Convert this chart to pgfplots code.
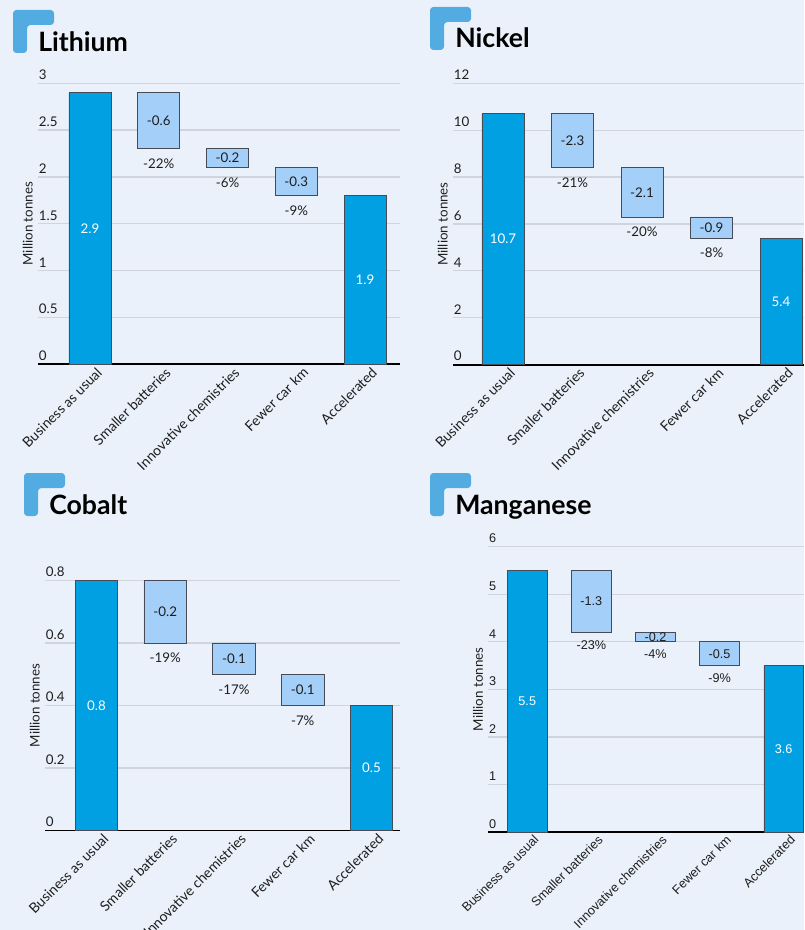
\documentclass[border=0pt]{standalone}
\usepackage{fontspec}
\setmainfont{Lato}
\newfontfamily\mnfont{Liberation Sans}
\usepackage{pgfplots}
\pgfplotsset{compat=1.18}
\usepackage{pgfplotstable}

\definecolor{bg}{RGB}{235,241,250}
\definecolor{total}{RGB}{0,160,227}
\definecolor{step}{RGB}{164,207,249}
\definecolor{edge}{RGB}{70,75,85}
\definecolor{gridc}{RGB}{208,212,220}
\definecolor{badge}{RGB}{82,172,226}
\definecolor{ink}{RGB}{30,30,30}

% x base total step val pct
\pgfplotstableread{
x base total step val pct
0 0   2.9 0   2.9  -
1 2.3 0   0.6 -0.6 -22\%
2 2.1 0   0.2 -0.2 -6\%
3 1.8 0   0.3 -0.3 -9\%
4 0   1.8 0   1.9  -
}\lithium
\pgfplotstableread{
x base total step val pct
0 0   10.7 0   10.7 -
1 8.4 0    2.3 -2.3 -21\%
2 6.3 0    2.1 -2.1 -20\%
3 5.4 0    0.9 -0.9 -8\%
4 0   5.4  0   5.4  -
}\nickel
\pgfplotstableread{
x base total step val pct
0 0   0.8 0   0.8  -
1 0.6 0   0.2 -0.2 -19\%
2 0.5 0   0.1 -0.1 -17\%
3 0.4 0   0.1 -0.1 -7\%
4 0   0.4 0   0.5  -
}\cobalt
\pgfplotstableread{
x base total step val pct
0 0   5.5 0   5.5  -
1 4.2 0   1.3 -1.3 -23\%
2 4.0 0   0.2 -0.2 -4\%
3 3.5 0   0.5 -0.5 -9\%
4 0   3.5 0   3.6  -
}\manganese

\newcommand\sz{\fontsize{10}{11}\selectfont}
\newcommand\xsz{\fontsize{10.5}{12}\selectfont}
\newcommand\msz{\fontsize{9.5}{11}\selectfont}

\pgfplotsset{
  geom/.style={scale only axis, anchor=south west, ymin=0},
  panel/.style={
    geom, ybar stacked,
    axis line style={draw=none},
    major tick length=0pt,
    ymajorgrids, grid style={gridc, line width=0.9pt},
    extra y ticks={0}, extra y tick labels={},
    extra y tick style={grid style={black, line width=1.4pt}},
    xtick={0,...,4},
    xticklabels={Business as usual, Smaller batteries, Innovative chemistries, Fewer car km, Accelerated},
    tick label style={font=\sz, text=ink},
    xticklabel style={font=\xsz, rotate=45, anchor=north east, inner sep=1pt, xshift=3pt, yshift=-3pt},
    yticklabel style={anchor=south west, inner xsep=0.5pt, inner ysep=2.5pt},
    /pgf/number format/assume math mode=true,
    ylabel={Million tonnes},
    every axis y label/.style={at={(rel axis cs:0,0.5)}, rotate=90, anchor=south,
      inner sep=0pt, outer sep=4pt, font=\sz, text=ink},
  },
  li/.style={at={(28.5pt,-273.2pt)}, width=271.5pt, height=210.75pt,
    xmin=-0.756, xmax=4.509, ymax=3, bar width=0.611, ytick={0,0.5,...,3}},
  ni/.style={at={(339.75pt,-273.5pt)}, width=263.25pt, height=211.05pt,
    xmin=-0.719, xmax=4.331, ymax=12, bar width=0.604, ytick={0,2,...,12}},
  co/.style={at={(33.75pt,-622.9pt)}, width=266.25pt, height=187.5pt,
    xmin=-0.749, xmax=4.415, ymax=0.8, bar width=0.62, ytick={0,0.2,0.4,0.6,0.8}},
  mn/.style={at={(366.2pt,-624pt)}, width=236.8pt, height=214pt,
    xmin=-0.608, xmax=4.317, ymax=6, bar width=0.616, ytick={0,1,...,6},
    tick label style={font=\mnfont\msz},
    xticklabel style={font=\mnfont\msz}},
}

% #1 geometry style, #2 table, #3 label font, #4 shift of the percentages
\newcommand\waterfall[4]{%
  \begin{axis}[panel, #1]
    \addplot[draw=none, fill=none] table[x=x, y=base] {#2};
    \addplot[fill=total, draw=edge, line width=0.6pt] table[x=x, y=total] {#2};
    \addplot[fill=step, draw=edge, line width=0.6pt] table[x=x, y=step] {#2};
  \end{axis}
  \begin{axis}[geom, #1, hide axis, nodes near coords, point meta=explicit symbolic]
    \addplot[draw=none, skip coords between index={1}{4},
      every node near coord/.style={anchor=center, text=white, font=#3}]
      table[x=x, y expr={\thisrow{base}+0.5*(\thisrow{total}+\thisrow{step})}, meta=val] {#2};
    \addplot[draw=none, skip coords between index={0}{1}, skip coords between index={4}{5},
      every node near coord/.style={anchor=center, text=ink, font=#3}]
      table[x=x, y expr={\thisrow{base}+0.5*(\thisrow{total}+\thisrow{step})}, meta=val] {#2};
    \addplot[draw=none, skip coords between index={0}{1}, skip coords between index={4}{5},
      every node near coord/.style={anchor=center, text=ink, font=#3, yshift=#4}]
      table[x=x, y=base, meta=pct] {#2};
  \end{axis}}

\begin{document}
\begin{tikzpicture}
\fill[bg] (0,0) rectangle (603pt,-697.5pt);
\useasboundingbox (0,0) rectangle (603pt,-697.5pt);
\begin{scope}[x=0.75pt, y=-0.75pt]
  \fill[badge, rounded corners=2.5pt] (13,53) -- (13,10) -- (54,10) -- (54,25) -- (27,25) -- (27,53) -- cycle;
  \fill[badge, rounded corners=2.5pt] (430,50) -- (430,7) -- (471,7) -- (471,22) -- (444,22) -- (444,50) -- cycle;
  \fill[badge, rounded corners=2.5pt] (24,516) -- (24,473) -- (65,473) -- (65,488) -- (38,488) -- (38,516) -- cycle;
  \fill[badge, rounded corners=2.5pt] (430,516) -- (430,473) -- (471,473) -- (471,488) -- (444,488) -- (444,516) -- cycle;
  \begin{scope}[every node/.style={anchor=base west, inner sep=0pt, font=\fontsize{20}{24}\selectfont\bfseries}]
    \node at (38,52) {Lithium};
    \node at (455,48) {Nickel};
    \node at (49,514) {Cobalt};
    \node at (455,514) {Manganese};
  \end{scope}
\end{scope}

\waterfall{li}{\lithium}{\sz}{-11.25pt}
\waterfall{ni}{\nickel}{\sz}{-11.25pt}
\waterfall{co}{\cobalt}{\sz}{-11.25pt}
\waterfall{mn}{\manganese}{\mnfont\msz}{-9.5pt}
\end{tikzpicture}
\end{document}
